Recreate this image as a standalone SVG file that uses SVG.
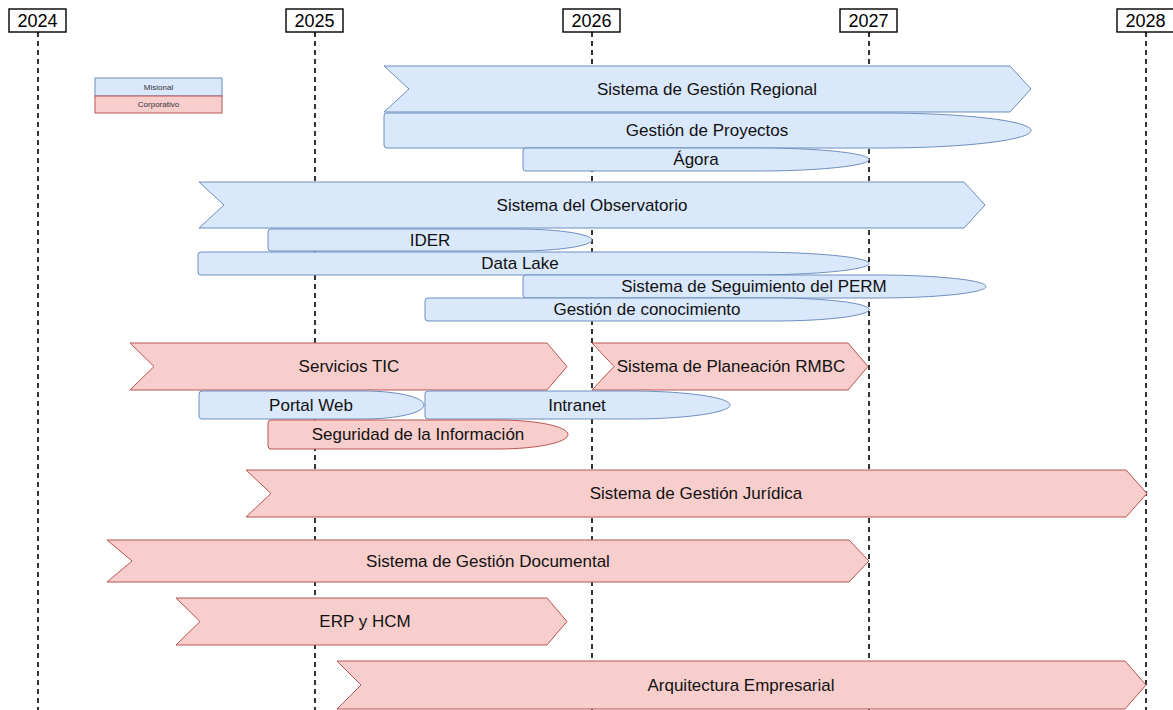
<svg xmlns="http://www.w3.org/2000/svg" width="1173" height="710" viewBox="0 0 1173 710">
<style>
.bg{fill:#ffffff}
.yl{stroke:#000;stroke-width:1.6;stroke-dasharray:5 4;fill:none}
.yb{fill:#fff;stroke:#000;stroke-width:1.4}
.yt{font-family:"Liberation Sans",Arial,sans-serif;font-size:18px;fill:#000;text-anchor:middle}
.m{fill:#dae8fc;stroke:#6c8ebf;stroke-width:1}
.c{fill:#f8cecc;stroke:#b85450;stroke-width:1}
.t{font-family:"Liberation Sans",Arial,sans-serif;font-size:17px;fill:#111;text-anchor:middle;dominant-baseline:central}
.lt{font-family:"Liberation Sans",Arial,sans-serif;font-size:8px;fill:#333;text-anchor:middle;dominant-baseline:central}
</style>
<rect class="bg" x="0" y="0" width="1173" height="710"/>
<g id="timeline">
<line class="yl" x1="38" y1="32" x2="38" y2="710"/>
<line class="yl" x1="315" y1="32" x2="315" y2="710"/>
<line class="yl" x1="592" y1="32" x2="592" y2="710"/>
<line class="yl" x1="869" y1="32" x2="869" y2="710"/>
<line class="yl" x1="1146" y1="32" x2="1146" y2="710"/>
<g id="y2024"><rect class="yb" x="9" y="9" width="57" height="23"/><text class="yt" x="37.5" y="27">2024</text></g>
<g id="y2025"><rect class="yb" x="286" y="9" width="57" height="23"/><text class="yt" x="314.5" y="27">2025</text></g>
<g id="y2026"><rect class="yb" x="563" y="9" width="57" height="23"/><text class="yt" x="591.5" y="27">2026</text></g>
<g id="y2027"><rect class="yb" x="840" y="9" width="57" height="23"/><text class="yt" x="868.5" y="27">2027</text></g>
<g id="y2028"><rect class="yb" x="1117" y="9" width="57" height="23"/><text class="yt" x="1145.5" y="27">2028</text></g>
</g>
<g id="legend">
<rect class="m" x="95" y="78" width="127" height="18"/>
<text class="lt" x="158.5" y="87">Misional</text>
<rect class="c" x="95" y="96" width="127" height="17"/>
<text class="lt" x="158.5" y="104.5">Corporativo</text>
</g>
<g id="nodes">
<g id="sgr"><path class="m" d="M384 66 H1010 L1031 89 L1010 112 H384 L409 89 Z"/><text class="t" x="707" y="89">Sistema de Gestión Regional</text></g>
<g id="proyectos"><path class="m" d="M387 113 H881 C963.8 113 1031 120.8 1031 130.5 C1031 140.2 963.8 148 881 148 H387 Q384 148 384 145 V116 Q384 113 387 113 Z"/><text class="t" x="707" y="130">Gestión de Proyectos</text></g>
<g id="agora"><path class="m" d="M526 148 H759 C819.7 148 869 153.4 869 159.5 C869 165.6 819.7 171 759 171 H526 Q523 171 523 168 V151 Q523 148 526 148 Z"/><text class="t" x="696" y="159.5">Ágora</text></g>
<g id="observatorio"><path class="m" d="M199 182 H964 L985 205 L964 228 H199 L224 205 Z"/><text class="t" x="592" y="205">Sistema del Observatorio</text></g>
<g id="ider"><path class="m" d="M271 229 H517 C558.4 229 592 234.2 592 240 C592 245.8 558.4 251 517 251 H271 Q268 251 268 248 V232 Q268 229 271 229 Z"/><text class="t" x="430" y="240">IDER</text></g>
<g id="datalake"><path class="m" d="M201 252 H749 C815.2 252 869 257.2 869 263.5 C869 269.8 815.2 275 749 275 H201 Q198 275 198 272 V255 Q198 252 201 252 Z"/><text class="t" x="520" y="263.5">Data Lake</text></g>
<g id="perm"><path class="m" d="M526 275 H876 C936.7 275 986 280.2 986 286.5 C986 292.8 936.7 298 876 298 H526 Q523 298 523 295 V278 Q523 275 526 275 Z"/><text class="t" x="754" y="286.5">Sistema de Seguimiento del PERM</text></g>
<g id="conocimiento"><path class="m" d="M428 298 H774 C826.4 298 869 303.2 869 309.5 C869 315.8 826.4 321 774 321 H428 Q425 321 425 318 V301 Q425 298 428 298 Z"/><text class="t" x="647" y="309.5">Gestión de conocimiento</text></g>
<g id="tic"><path class="c" d="M130 343 H547 L567 366.5 L547 390 H130 L154 366.5 Z"/><text class="t" x="349" y="366.5">Servicios TIC</text></g>
<g id="rmbc"><path class="c" d="M592 343 H848 L868 366.5 L848 390 H592 L614 366.5 Z"/><text class="t" x="731" y="366.5">Sistema de Planeación RMBC</text></g>
<g id="portal"><path class="m" d="M202 391 H364 C397.1 391 424 397.3 424 405 C424 412.7 397.1 419 364 419 H202 Q199 419 199 416 V394 Q199 391 202 391 Z"/><text class="t" x="311" y="405">Portal Web</text></g>
<g id="intranet"><path class="m" d="M428 391 H630 C685.2 391 730 397.3 730 405 C730 412.7 685.2 419 630 419 H428 Q425 419 425 416 V394 Q425 391 428 391 Z"/><text class="t" x="577" y="405">Intranet</text></g>
<g id="seguridad"><path class="c" d="M271 420 H498 C536.7 420 568 426.5 568 434.5 C568 442.5 536.7 449 498 449 H271 Q268 449 268 446 V423 Q268 420 271 420 Z"/><text class="t" x="418" y="434.5">Seguridad de la Información</text></g>
<g id="juridica"><path class="c" d="M246 470 H1126 L1147 493.5 L1126 517 H246 L271 493.5 Z"/><text class="t" x="696" y="493.5">Sistema de Gestión Jurídica</text></g>
<g id="documental"><path class="c" d="M107 540 H849 L869 561 L849 582 H107 L132 561 Z"/><text class="t" x="488" y="561">Sistema de Gestión Documental</text></g>
<g id="erp"><path class="c" d="M176 598 H547 L567 621.5 L547 645 H176 L200 621.5 Z"/><text class="t" x="365" y="621.5">ERP y HCM</text></g>
<g id="arquitectura"><path class="c" d="M337 661 H1125 L1146 685 L1125 709 H337 L361 685 Z"/><text class="t" x="741" y="685">Arquitectura Empresarial</text></g>
</g>
</svg>
